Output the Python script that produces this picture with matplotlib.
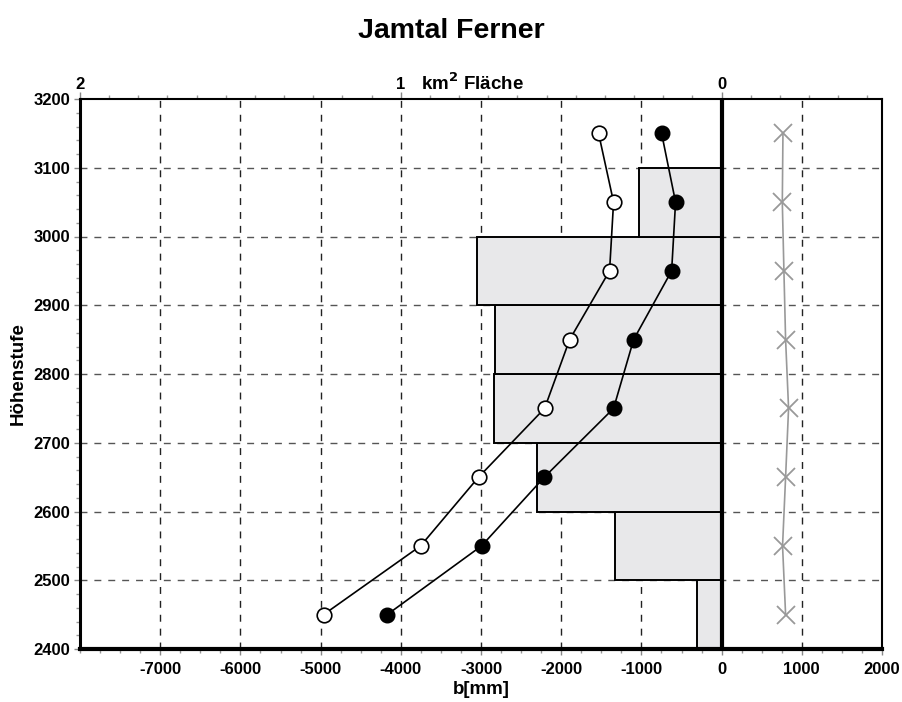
import matplotlib
matplotlib.use("Agg")
import matplotlib.pyplot as plt
import numpy as np
from matplotlib.ticker import FixedLocator, MultipleLocator

plt.rcParams['font.family'] = ['Liberation Sans', 'DejaVu Sans']

# Data
hoehe = [2450, 2550, 2650, 2750, 2850, 2950, 3050, 3150]
b_open = [-4963, -3753, -3030, -2207, -1895, -1397, -1347, -1534]
b_filled = [-4170, -2993, -2210, -1347, -1097, -623, -574, -748]
b_cross = [798, 760, 798, 835, 798, 777, 757, 765]
band_lo = [2400, 2500, 2600, 2700, 2800, 2900, 3000, 3100]
flaeche = [0.077, 0.333, 0.574, 0.711, 0.705, 0.764, 0.258, 0.0]
MM_PER_KM2 = 4000.0

fig = plt.figure(figsize=(9.02, 7.02), dpi=100)
ax = fig.add_axes([80/902, 53/702, 802/902, 550/702])

ax.set_xlim(-8000, 2000)
ax.set_ylim(2400, 3200)

# grid
for xv in range(-7000, 2000, 1000):
    ax.axvline(xv, color='#222222', lw=1.0, ls=(0, (5, 5)), zorder=0)
for yv in range(2500, 3200, 100):
    ax.axhline(yv, color='#555555', lw=1.0, ls=(0, (5, 5)), zorder=0)

# area bars
widths = [-a * MM_PER_KM2 for a in flaeche]
ax.barh(band_lo, widths, height=100, left=0, align='edge',
        color='#e8e8ea', edgecolor='black', linewidth=1.4, zorder=2)

ax.axvline(0, color='black', lw=3, zorder=3)

ax.plot(b_cross, hoehe, color='#999999', lw=1.2, marker='x', ms=13, mew=1.3, zorder=4)
ax.plot(b_open, hoehe, color='black', lw=1.2, marker='o', ms=10.5, mfc='white',
        mec='black', mew=1.2, zorder=5)
ax.plot(b_filled, hoehe, color='black', lw=1.2, marker='o', ms=10.5, mfc='black',
        mec='black', zorder=5)

# spines
for s in ['top', 'right']:
    ax.spines[s].set_linewidth(1.5)
ax.spines['bottom'].set_linewidth(3)
ax.spines['left'].set_linewidth(2.2)

# ticks
ax.set_xticks(np.arange(-7000, 2001, 1000))
ax.set_xticklabels([str(v) for v in range(-7000, 2001, 1000)])
ax.xaxis.set_minor_locator(MultipleLocator(250))
ax.set_yticks(np.arange(2400, 3201, 100))
ax.yaxis.set_minor_locator(MultipleLocator(20))
ax.tick_params(axis='both', which='major', direction='out', length=4, width=1,
               color='#888888', labelsize=12, pad=3)
ax.tick_params(axis='x', which='major', pad=5)
ax.tick_params(axis='both', which='minor', direction='out', length=3, width=1,
               color='#999999')
for lab in ax.get_xticklabels() + ax.get_yticklabels():
    lab.set_fontweight('bold')

# top axis: area in km2
sec = ax.secondary_xaxis('top', functions=(lambda x: -x / MM_PER_KM2,
                                           lambda a: -a * MM_PER_KM2))
sec.set_xticks([0, 1, 2])
sec.set_xticklabels(['0', '1', '2'])
sec.xaxis.set_minor_locator(FixedLocator(np.arange(-6, 23) / 11.0))
sec.tick_params(which='major', direction='out', length=5, width=1, color='#888888',
                labelsize=12, pad=0)
sec.tick_params(which='minor', direction='out', length=3, width=1, color='#999999')
sec.spines['top'].set_visible(False)
for lab in sec.get_xticklabels():
    lab.set_fontweight('bold')
ax.text(-3750, 1.01, 'km$^{\\mathbf{2}}$ Fläche', transform=ax.get_xaxis_transform(),
        ha='left', va='bottom', fontsize=13.5, fontweight='bold')

ax.set_xlabel('b[mm]', fontsize=13.5, fontweight='bold', labelpad=3)
ax.set_ylabel('Höhenstufe', fontsize=13.5, fontweight='bold', labelpad=5)

fig.suptitle('Jamtal Ferner', fontsize=20.5, fontweight='bold', y=0.975)

fig.savefig('out.png', dpi=100)
